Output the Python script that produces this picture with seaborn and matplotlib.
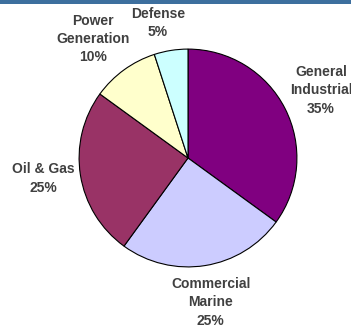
import matplotlib
matplotlib.use("Agg")
import matplotlib.pyplot as plt
import seaborn as sns
import numpy as np
from matplotlib.patches import Rectangle

categories = ["General\nIndustrial", "Commercial\nMarine", "Oil & Gas", "Power\nGeneration", "Defense"]
values = [35, 25, 25, 10, 5]
colors = ["#800080", "#CCCCFF", "#993366", "#FFFFCC", "#CCFFFF"]
label_dist = [1.37, 1.34, 1.34, 1.40, 1.27]
label_ang_shift = [0, 0, -1, 2.7, 3.5]

sns.set_theme(style="white")
plt.rcParams["font.family"] = ["Liberation Sans", "DejaVu Sans"]

W, H = 351, 327
fig = plt.figure(figsize=(W / 100, H / 100), dpi=100)
fig.patch.set_facecolor("white")

cx, cy, r = 188, 158, 110
ax = fig.add_axes([(cx - r) / W, (H - cy - r) / H, 2 * r / W, 2 * r / H])

labels = [f"{c}\n{v}%" for c, v in zip(categories, values)]
wedges, texts = ax.pie(
    values,
    labels=labels,
    colors=colors,
    startangle=90,
    counterclock=False,
    labeldistance=1.35,
    wedgeprops=dict(edgecolor="black", linewidth=0.8),
    textprops=dict(ha="center", va="center", fontsize=10, fontweight="bold",
                   color="#404040", linespacing=1.4),
)
for w, t, d, s in zip(wedges, texts, label_dist, label_ang_shift):
    ang = np.deg2rad((w.theta1 + w.theta2) / 2 + s)
    t.set_position((d * np.cos(ang), d * np.sin(ang)))

ax.set_xlim(-1.01, 1.01)
ax.set_ylim(-1.01, 1.01)
ax.set_aspect("equal")
ax.axis("off")

# top banner strip
fig.patches.append(Rectangle((0, 1 - 4 / H), 1, 4 / H, transform=fig.transFigure,
                             facecolor="#3d6f9e", edgecolor="none", zorder=5))

fig.savefig("out.png", dpi=100)
